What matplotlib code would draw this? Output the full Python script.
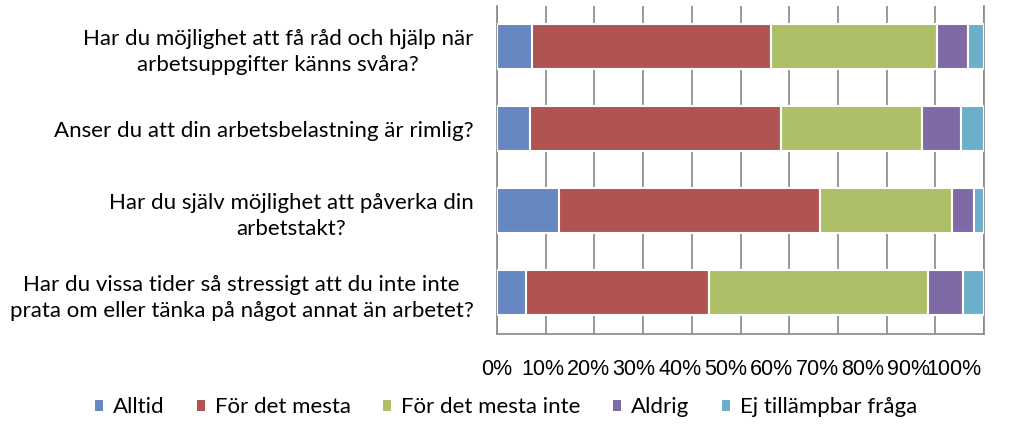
import matplotlib
matplotlib.use('Agg')
import matplotlib.pyplot as plt
from matplotlib.patches import Patch
from matplotlib.transforms import ScaledTranslation
import numpy as np

# ── Data (share of answers, %) ───────────────────────────────────────────────
questions = [
    'Har du möjlighet att få råd och hjälp när\narbetsuppgifter känns svåra?',
    'Anser du att din arbetsbelastning är rimlig?',
    'Har du själv möjlighet att påverka din\narbetstakt?',
    'Har du vissa tider så stressigt att du inte inte\nprata om eller tänka på något annat än arbetet?',
]
series = ['Alltid', 'För det mesta', 'För det mesta inte', 'Aldrig', 'Ej tillämpbar fråga']
alltid       = [7.2, 6.8, 12.7, 5.9]
for_det      = [49.1, 51.5, 53.7, 37.7]
for_det_inte = [34.0, 29.0, 27.1, 44.8]
aldrig       = [6.5, 8.0, 4.5, 7.2]
ej_tillamp   = [3.2, 4.7, 2.0, 4.4]
tick_labels = ['0%', '10%', '20%', '30%', '40%', '50%', '60%', '70%', '80%', '90%', '100%']

colors = ['#6787C2', '#B05452', '#ADC068', '#7F6AA6', '#6CAFCA']
values = [alltid, for_det, for_det_inte, aldrig, ej_tillamp]

fig = plt.figure(figsize=(10.24, 4.37), dpi=100)
ax = fig.add_axes([0.4854, 0.2368, 0.4756, 0.7506])

y = np.arange(len(questions))
left = np.zeros(len(questions))
for name, vals, c in zip(series, values, colors):
    ax.barh(y, vals, left=left, height=0.55, color=c, edgecolor='white',
            linewidth=1.5, label=name, zorder=3)
    left += np.array(vals)

ax.set_xlim(0, 100)
ax.set_ylim(3.5, -0.5)
ax.set_xticks(np.arange(0, 101, 10))
ax.set_xticklabels(tick_labels, fontfamily='Liberation Sans', fontsize=15.5)
ax.set_yticks(y)
ax.set_yticklabels(questions, fontfamily='Lato', fontsize=16, multialignment='center')
for lab in ax.get_yticklabels():
    lab.set_linespacing(1.4)
ax.tick_params(axis='x', length=0, pad=18)
ax.tick_params(axis='y', length=0, pad=17)
# the original squeezes the percent labels together towards the left
for i, tick in enumerate(ax.xaxis.get_major_ticks()):
    tick.label1.set_transform(tick.label1.get_transform()
                              + ScaledTranslation(-0.03 * i, 0, fig.dpi_scale_trans))
ax.grid(axis='x', color='#888888', linewidth=1.2, zorder=0)

for s in ['left', 'bottom', 'right']:
    ax.spines[s].set_color('#888888')
    ax.spines[s].set_linewidth(1.2)
ax.spines['top'].set_visible(False)

handles = [Patch(facecolor=c, edgecolor='none') for c in colors]
fig.legend(handles, series, loc='center', bbox_to_anchor=(0.494, 0.068), ncol=5,
           frameon=False, prop={'family': 'Lato', 'size': 16},
           handlelength=0.36, handleheight=0.36, handletextpad=0.45, columnspacing=1.46)

fig.savefig('out.png', dpi=100, facecolor='white')
